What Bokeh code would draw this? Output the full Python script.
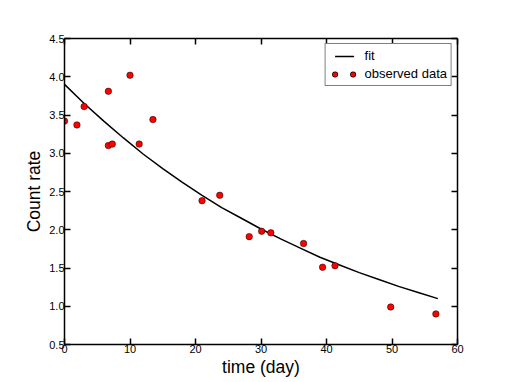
from bokeh.plotting import figure
from bokeh.models import (LinearAxis, FixedTicker, Range1d, Legend, LegendItem,
                          ColumnDataSource, PrintfTickFormatter)
from bokeh.embed import file_html
from bokeh.resources import INLINE

time_day = [0.0, 1.9, 3.0, 6.7, 6.7, 7.3, 10.0, 11.4, 13.5, 21.0, 23.7,
            28.2, 30.1, 31.5, 36.5, 39.4, 41.3, 49.8, 56.7]
count_rate = [3.42, 3.37, 3.61, 3.81, 3.10, 3.12, 4.02, 3.12, 3.44, 2.38, 2.45,
              1.91, 1.98, 1.96, 1.82, 1.51, 1.53, 0.99, 0.90]

# fitted curve
fit_time = [0, 3, 6, 9, 12, 15, 18, 21, 24, 27, 30, 33, 36, 39, 42, 45, 48, 51, 54, 57]
fit_rate = [3.90, 3.65, 3.42, 3.20, 2.99, 2.80, 2.62, 2.45, 2.29, 2.15, 2.01,
            1.88, 1.76, 1.64, 1.54, 1.44, 1.35, 1.26, 1.18, 1.10]

x_ticks = [0, 10, 20, 30, 40, 50, 60]
y_ticks = [0.5, 1.0, 1.5, 2.0, 2.5, 3.0, 3.5, 4.0, 4.5]

FONT = "Liberation Sans"

p = figure(width=509, height=382, x_range=Range1d(0, 60), y_range=Range1d(0.5, 4.5),
           output_backend="svg", toolbar_location=None,
           min_border_left=64, min_border_right=52, min_border_top=38, min_border_bottom=38,
           x_axis_label="time (day)", y_axis_label="Count rate")
p.xgrid.visible = False
p.ygrid.visible = False
p.outline_line_color = None
p.background_fill_color = "white"
p.border_fill_color = "white"

p.add_layout(LinearAxis(), "above")
p.add_layout(LinearAxis(), "right")

for ax in p.xaxis:
    ax.ticker = FixedTicker(ticks=x_ticks)
for ax in p.yaxis:
    ax.ticker = FixedTicker(ticks=y_ticks)
    ax.formatter = PrintfTickFormatter(format="%.1f")

for ax in p.xaxis + p.yaxis:
    ax.axis_line_color = "black"
    ax.axis_line_width = 1.5
    ax.major_tick_line_color = "black"
    ax.major_tick_line_width = 1.5
    ax.major_tick_in = 6
    ax.major_tick_out = 0
    ax.minor_tick_line_color = None
    ax.major_label_text_font = FONT
    ax.major_label_text_font_size = "11px"
    ax.major_label_text_color = "black"
    ax.axis_label_text_font = FONT
    ax.axis_label_text_font_size = "17.5px"
    ax.axis_label_text_font_style = "normal"
    ax.axis_label_text_color = "black"

# mirrored axes: ticks only, no labels
for ax in (p.above[0], p.right[0]):
    ax.major_label_text_color = None
    ax.major_label_standoff = 0

p.below[0].major_label_standoff = 0
p.below[0].axis_label_standoff = 1
p.left[0].major_label_standoff = 0
p.left[0].axis_label_standoff = 2

p.line(fit_time, fit_rate, line_color="black", line_width=1.5)
p.scatter(time_day, count_rate, size=6.5, fill_color="red",
          line_color="black", line_width=0.5)

# legend-only helpers (never drawn in the plot area: their data is NaN)
nan = float("nan")
helper = ColumnDataSource(data=dict(x=[nan], y=[nan]))
leg_fit = p.line("x", "y", source=helper, line_color="black", line_width=1.5,
                 line_dash="0 5 19 100")
dot_black = p.line("x", "y", source=helper, line_color="black", line_width=6,
                   line_dash="0 18 0 100", line_dash_offset=113, line_cap="round")
dot_red = p.line("x", "y", source=helper, line_color="red", line_width=4.6,
                 line_dash="0 18 0 100", line_dash_offset=113, line_cap="round")

legend = Legend(items=[LegendItem(label="fit", renderers=[leg_fit]),
                       LegendItem(label="observed data", renderers=[dot_black, dot_red])],
                location="top_right")
legend.border_line_color = "black"
legend.border_line_width = 1
legend.background_fill_alpha = 1
legend.margin = 5
legend.padding = 4
legend.spacing = 3
legend.glyph_width = 28
legend.glyph_height = 14
legend.label_height = 14
legend.label_standoff = 7
legend.label_text_font = FONT
legend.label_text_font_size = "13px"
legend.label_text_color = "black"
p.add_layout(legend)

open("out.html", "w").write(file_html(p, INLINE))
